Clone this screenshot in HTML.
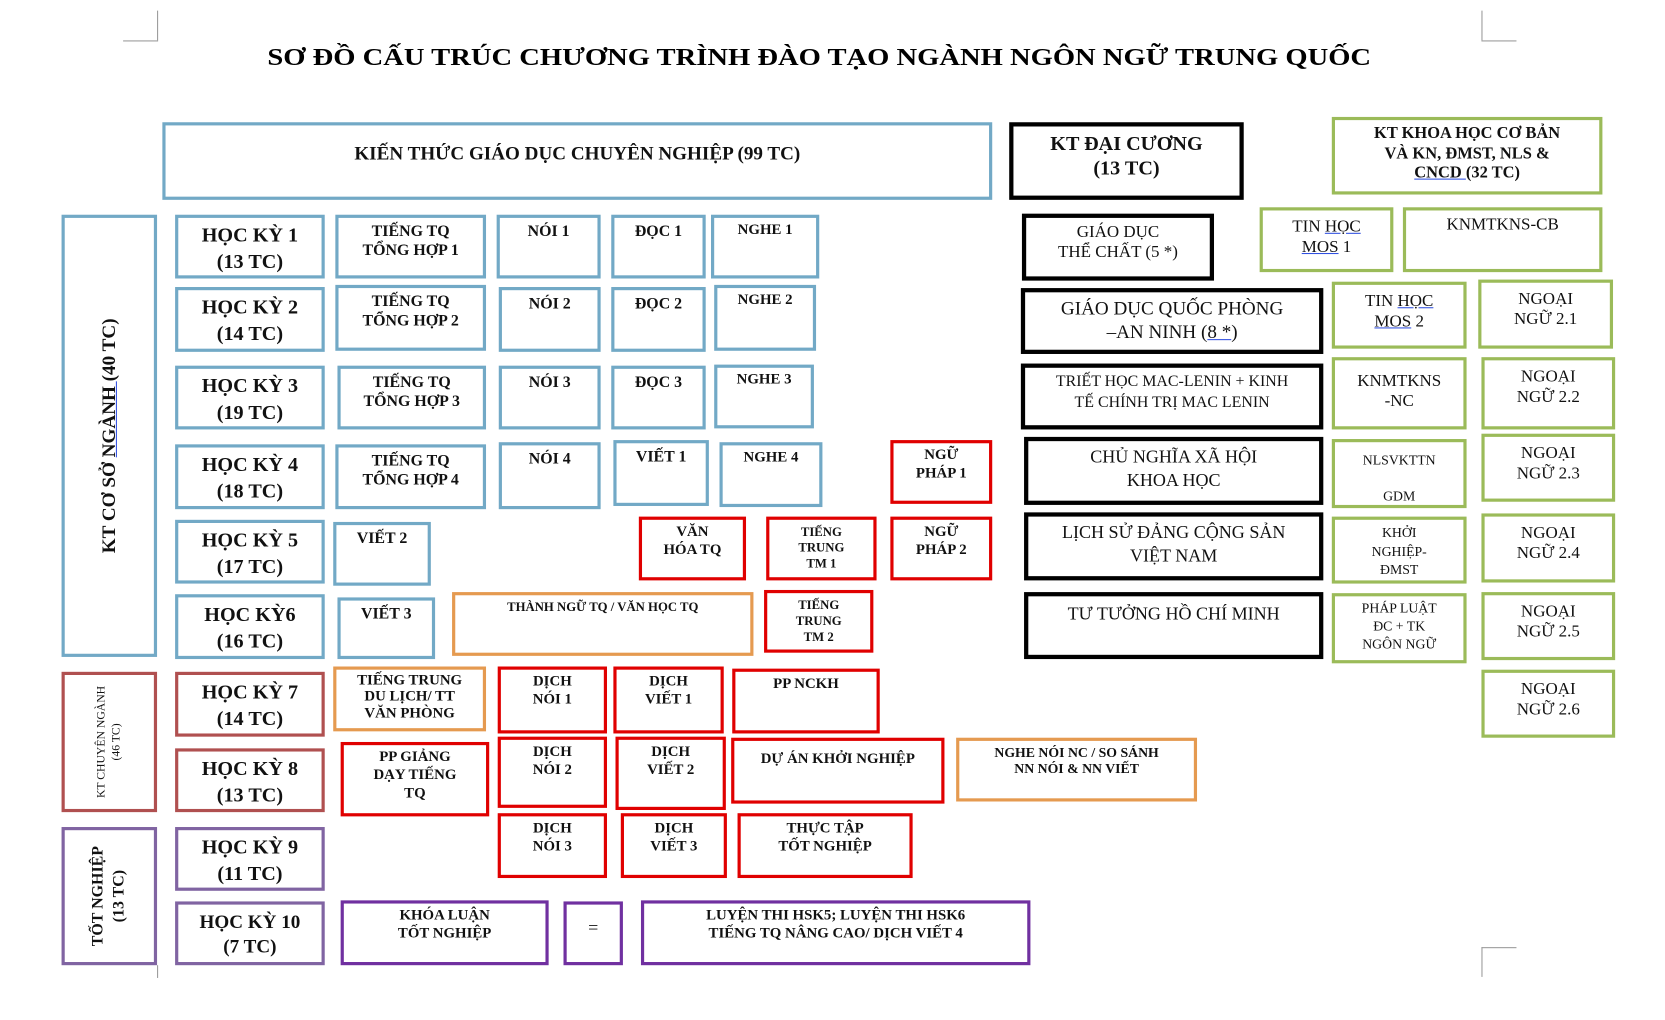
<!DOCTYPE html>
<html><head><meta charset="utf-8"><style>
html,body{margin:0;padding:0;background:#fff;}
body{width:1665px;height:1012px;overflow:hidden;position:relative;}
#s{position:absolute;left:0;top:0;width:1560px;height:960px;transform-origin:0 0;transform:scale(1.0612,1.0630);}
.b{position:absolute;box-sizing:border-box;border:3.5px solid #000;text-align:center;font-family:"Liberation Serif",serif;font-weight:bold;color:#111;line-height:1.2;padding-top:4px;font-size:15px;}
.bl{border-color:#72a9c6}.r{border-color:#e00000}.o{border-color:#e59a50}.g{border-color:#9bbb59}.p{border-color:#7030a0}.pl{border-color:#8064a2}.br{border-color:#b05050}.k{border-color:#000;border-width:4px}
.hk{font-size:19px;line-height:1.3;padding-top:5px}
.n{font-weight:normal;font-size:17px}
.u{text-decoration:underline;text-decoration-color:#3050e0}
.ln{position:absolute;background:#999}
.rot{position:absolute;left:50%;top:50%;white-space:nowrap;transform:translate(-50%,-50%) rotate(-90deg);}
</style></head><body><div id="s">
<div class="ln" style="left:148px;top:10px;width:1px;height:28px"></div>
<div class="ln" style="left:116px;top:38px;width:33px;height:1px"></div>
<div class="ln" style="left:1396px;top:10px;width:1px;height:28px"></div>
<div class="ln" style="left:1396px;top:38px;width:33px;height:1px"></div>
<div class="ln" style="left:1396px;top:891px;width:33px;height:1px"></div>
<div class="ln" style="left:1396px;top:891px;width:1px;height:28px"></div>
<div class="ln" style="left:148px;top:908px;width:1px;height:12px"></div>
<svg style="position:absolute;left:0;top:30px" width="1560" height="40"><text x="252" y="31" textLength="1040" lengthAdjust="spacingAndGlyphs" font-family="Liberation Serif" font-weight="bold" font-size="23">SƠ ĐỒ CẤU TRÚC CHƯƠNG TRÌNH ĐÀO TẠO NGÀNH NGÔN NGỮ TRUNG QUỐC</text></svg>

<div class="b bl" style="left:153px;top:115px;width:782px;height:73px;font-size:18px;padding-top:16px">KIẾN THỨC GIÁO DỤC CHUYÊN NGHIỆP (99 TC)</div>
<div class="b k" style="left:951px;top:115px;width:221px;height:73px;font-size:19px;padding-top:6px">KT ĐẠI CƯƠNG<br>(13 TC)</div>
<div class="b g" style="left:1255px;top:110px;width:255px;height:73px;font-size:15.5px;padding-top:4px">KT KHOA HỌC CƠ BẢN<br>VÀ KN, ĐMST, NLS &amp;<br><span class="u">CNCD </span>(32 TC)</div>

<div class="b bl" style="left:58px;top:202px;width:90px;height:416px;font-size:18px"><div class="rot">KT CƠ SỞ <span class="u">NGÀNH </span>(40 TC)</div></div>
<div class="b br" style="left:58px;top:632px;width:90px;height:132px;font-size:11px;font-weight:normal;line-height:1.3"><div class="rot">KT CHUYÊN NGÀNH<br>(46 TC)</div></div>
<div class="b pl" style="left:58px;top:778px;width:90px;height:130px;font-size:15px;line-height:1.3"><div class="rot">TỐT NGHIỆP<br>(13 TC)</div></div>

<div class="b bl hk" style="left:165px;top:202px;width:141px;height:60px">HỌC KỲ 1<br>(13 TC)</div>
<div class="b bl hk" style="left:165px;top:270px;width:141px;height:61px">HỌC KỲ 2<br>(14 TC)</div>
<div class="b bl hk" style="left:165px;top:344px;width:141px;height:60px">HỌC KỲ 3<br>(19 TC)</div>
<div class="b bl hk" style="left:165px;top:418px;width:141px;height:61px">HỌC KỲ 4<br>(18 TC)</div>
<div class="b bl hk" style="left:165px;top:489px;width:141px;height:60px">HỌC KỲ 5<br>(17 TC)</div>
<div class="b bl hk" style="left:165px;top:559px;width:141px;height:61px">HỌC KỲ6<br>(16 TC)</div>
<div class="b br hk" style="left:165px;top:632px;width:141px;height:61px">HỌC KỲ 7<br>(14 TC)</div>
<div class="b br hk" style="left:165px;top:704px;width:141px;height:60px">HỌC KỲ 8<br>(13 TC)</div>
<div class="b pl hk" style="left:165px;top:778px;width:141px;height:60px">HỌC KỲ 9<br>(11 TC)</div>
<div class="b pl hk" style="left:165px;top:848px;width:141px;height:60px;font-size:18px">HỌC KỲ 10<br>(7 TC)</div>

<div class="b bl" style="left:316px;top:202px;width:142px;height:60px">TIẾNG TQ<br>TỔNG HỢP 1</div>
<div class="b bl" style="left:468px;top:202px;width:98px;height:60px">NÓI 1</div>
<div class="b bl" style="left:576px;top:202px;width:89px;height:60px">ĐỌC 1</div>
<div class="b bl" style="left:670px;top:202px;width:102px;height:60px;font-size:14px">NGHE 1</div>

<div class="b bl" style="left:316px;top:268px;width:142px;height:62px">TIẾNG TQ<br>TỔNG HỢP 2</div>
<div class="b bl" style="left:470px;top:270px;width:96px;height:61px">NÓI 2</div>
<div class="b bl" style="left:576px;top:270px;width:89px;height:61px">ĐỌC 2</div>
<div class="b bl" style="left:673px;top:268px;width:96px;height:62px;font-size:14px">NGHE 2</div>

<div class="b bl" style="left:318px;top:344px;width:140px;height:60px">TIẾNG TQ<br>TỔNG HỢP 3</div>
<div class="b bl" style="left:470px;top:344px;width:96px;height:60px">NÓI 3</div>
<div class="b bl" style="left:576px;top:344px;width:89px;height:60px">ĐỌC 3</div>
<div class="b bl" style="left:673px;top:343px;width:94px;height:60px;font-size:14px">NGHE 3</div>

<div class="b bl" style="left:316px;top:418px;width:142px;height:61px">TIẾNG TQ<br>TỔNG HỢP 4</div>
<div class="b bl" style="left:470px;top:416px;width:96px;height:63px">NÓI 4</div>
<div class="b bl" style="left:578px;top:414px;width:90px;height:62px">VIẾT 1</div>
<div class="b bl" style="left:678px;top:416px;width:97px;height:61px;font-size:14px">NGHE 4</div>
<div class="b r" style="left:839px;top:414px;width:96px;height:60px;font-size:14px">NGỮ<br>PHÁP 1</div>

<div class="b bl" style="left:314px;top:491px;width:92px;height:60px">VIẾT 2</div>
<div class="b r" style="left:602px;top:486px;width:101px;height:60px;font-size:14px">VĂN<br>HÓA TQ</div>
<div class="b r" style="left:722px;top:486px;width:104px;height:60px;font-size:12px;line-height:1.25">TIẾNG<br>TRUNG<br>TM 1</div>
<div class="b r" style="left:839px;top:486px;width:96px;height:60px;font-size:14px">NGỮ<br>PHÁP 2</div>

<div class="b bl" style="left:318px;top:562px;width:92px;height:58px">VIẾT 3</div>
<div class="b o" style="left:426px;top:557px;width:284px;height:60px;font-size:12px">THÀNH NGỮ TQ / VĂN HỌC TQ</div>
<div class="b r" style="left:720px;top:555px;width:103px;height:59px;font-size:12px;line-height:1.25">TIẾNG<br>TRUNG<br>TM 2</div>

<div class="b o" style="left:314px;top:627px;width:144px;height:61px;font-size:14px;line-height:1.1;padding-top:3px">TIẾNG TRUNG<br>DU LỊCH/ TT<br>VĂN PHÒNG</div>
<div class="b r" style="left:469px;top:627px;width:103px;height:63px;font-size:14px">DỊCH<br>NÓI 1</div>
<div class="b r" style="left:578px;top:627px;width:104px;height:63px;font-size:14px">DỊCH<br>VIẾT 1</div>
<div class="b r" style="left:690px;top:629px;width:139px;height:61px;font-size:14px">PP NCKH</div>

<div class="b r" style="left:321px;top:698px;width:140px;height:70px;font-size:14px">PP GIẢNG<br>DẠY TIẾNG<br>TQ</div>
<div class="b r" style="left:469px;top:693px;width:103px;height:67px;font-size:14px">DỊCH<br>NÓI 2</div>
<div class="b r" style="left:580px;top:693px;width:104px;height:69px;font-size:14px">DỊCH<br>VIẾT 2</div>
<div class="b r" style="left:689px;top:694px;width:201px;height:62px;font-size:14px;padding-top:10px">DỰ ÁN KHỞI NGHIỆP</div>
<div class="b o" style="left:901px;top:694px;width:227px;height:60px;font-size:13px;line-height:1.15">NGHE NÓI NC / SO SÁNH<br>NN NÓI &amp; NN VIẾT</div>

<div class="b r" style="left:469px;top:765px;width:103px;height:61px;font-size:14px">DỊCH<br>NÓI 3</div>
<div class="b r" style="left:585px;top:765px;width:100px;height:61px;font-size:14px">DỊCH<br>VIẾT 3</div>
<div class="b r" style="left:695px;top:765px;width:165px;height:61px;font-size:14px">THỰC TẬP<br>TỐT NGHIỆP</div>

<div class="b p" style="left:321px;top:847px;width:196px;height:61px;font-size:14px">KHÓA LUẬN<br>TỐT NGHIỆP</div>
<div class="b p" style="left:531px;top:848px;width:56px;height:60px;font-size:17px;font-weight:normal;padding-top:12px">=</div>
<div class="b p" style="left:604px;top:847px;width:367px;height:61px;font-size:14px">LUYỆN THI HSK5; LUYỆN THI HSK6<br>TIẾNG TQ NÂNG CAO/ DỊCH VIẾT 4</div>

<div class="b k n" style="left:963px;top:201px;width:181px;height:63px;font-size:16px">GIÁO DỤC<br>THỂ CHẤT (5 *)</div>
<div class="b k n" style="left:962px;top:271px;width:285px;height:62px;font-size:18px;padding-top:5px">GIÁO DỤC QUỐC PHÒNG<br>–AN NINH (<span class="u">8 *</span>)</div>
<div class="b k n" style="left:962px;top:342px;width:285px;height:62px;font-size:15px;line-height:1.3">TRIẾT HỌC MAC-LENIN + KINH<br>TẾ CHÍNH TRỊ MAC LENIN</div>
<div class="b k n" style="left:965px;top:411px;width:282px;height:64px;font-size:17px;line-height:1.3">CHỦ NGHĨA XÃ HỘI<br>KHOA HỌC</div>
<div class="b k n" style="left:965px;top:482px;width:282px;height:64px;font-size:17px;line-height:1.3">LỊCH SỬ ĐẢNG CỘNG SẢN<br>VIỆT NAM</div>
<div class="b k n" style="left:965px;top:557px;width:282px;height:63px;font-size:17px;padding-top:7px">TƯ TƯỞNG HỒ CHÍ MINH</div>

<div class="b g n" style="left:1187px;top:195px;width:126px;height:61px;font-size:16px;padding-top:6px">TIN <span class="u">HỌC </span><br><span class="u">MOS</span> 1</div>
<div class="b g n" style="left:1322px;top:195px;width:188px;height:61px;font-size:16px">KNMTKNS-CB</div>
<div class="b g n" style="left:1255px;top:265px;width:127px;height:63px;font-size:16px;padding-top:6px">TIN <span class="u">HỌC </span><br><span class="u">MOS</span> 2</div>
<div class="b g n" style="left:1393px;top:263px;width:127px;height:65px;font-size:16px;padding-top:6px">NGOẠI<br>NGỮ 2.1</div>
<div class="b g n" style="left:1255px;top:336px;width:127px;height:68px;font-size:16px;padding-top:10px">KNMTKNS<br>-NC</div>
<div class="b g n" style="left:1396px;top:336px;width:126px;height:68px;font-size:16px;padding-top:6px">NGOẠI<br>NGỮ 2.2</div>
<div class="b g n" style="left:1255px;top:413px;width:127px;height:65px;font-size:13px;line-height:2.6;padding-top:0">NLSVKTTN<br>GDM</div>
<div class="b g n" style="left:1396px;top:408px;width:126px;height:64px;font-size:16px;padding-top:6px">NGOẠI<br>NGỮ 2.3</div>
<div class="b g n" style="left:1255px;top:486px;width:127px;height:63px;font-size:13px;line-height:1.35;padding-top:3px">KHỞI<br>NGHIỆP-<br>ĐMST</div>
<div class="b g n" style="left:1396px;top:483px;width:126px;height:65px;font-size:16px;padding-top:6px">NGOẠI<br>NGỮ 2.4</div>
<div class="b g n" style="left:1255px;top:558px;width:127px;height:66px;font-size:13px;line-height:1.3;padding-top:3px">PHÁP LUẬT<br>ĐC + TK<br>NGÔN NGỮ</div>
<div class="b g n" style="left:1396px;top:557px;width:126px;height:64px;font-size:16px;padding-top:6px">NGOẠI<br>NGỮ 2.5</div>
<div class="b g n" style="left:1396px;top:630px;width:126px;height:64px;font-size:16px;padding-top:6px">NGOẠI<br>NGỮ 2.6</div>
</div></body></html>
